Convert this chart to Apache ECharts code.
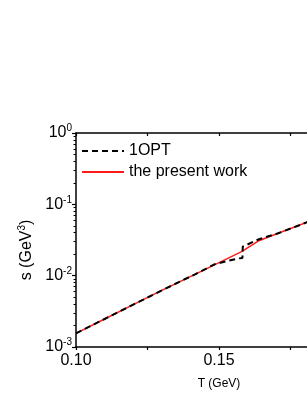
<!DOCTYPE html>
<html><head><meta charset="utf-8">
<script src="https://cdn.jsdelivr.net/npm/echarts@6/dist/echarts.min.js"></script>
<style>html,body{margin:0;padding:0;background:#fff}#c{width:307px;height:397px}</style>
</head><body><div id="c"></div>
<script>
const seriesNames = ['1OPT', 'the present work'];
// the present work
const tPresent = [0.100, 0.110, 0.120, 0.130, 0.1416, 0.1579, 0.1637, 0.1707, 0.1808, 0.190, 0.200];
const sPresent = [1.556e-3, 2.47e-3, 3.92e-3, 6.22e-3, 1.045e-2, 2.17e-2, 3.06e-2, 3.93e-2, 5.61e-2, 7.4e-2, 0.1];
// 1OPT
const tOPT = [0.100, 0.110, 0.120, 0.130, 0.1416, 0.1486, 0.1566, 0.1582, 0.1583, 0.1637, 0.1707, 0.1808, 0.190, 0.200];
const sOPT = [1.556e-3, 2.47e-3, 3.92e-3, 6.22e-3, 1.045e-2, 1.455e-2, 1.74e-2, 1.77e-2, 2.55e-2, 3.21e-2, 3.93e-2, 5.61e-2, 7.4e-2, 0.1];
const yMinorTicks = [];
[0.001, 0.01, 0.1].forEach(d => { for (let k = 2; k <= 9; k++) yMinorTicks.push(+(d * k).toPrecision(3)); });

const font = 'Liberation Sans, Arial, sans-serif';
const chart = echarts.init(document.getElementById('c'), null, {renderer: 'canvas'});
const axisLine = {show: true, lineStyle: {color: '#000', width: 1.5}};
chart.setOption({
  animation: false,
  backgroundColor: '#fff',
  grid: {left: 76, top: 133, width: 286, height: 214, containLabel: false, outerBoundsMode: 'none'},
  legend: {
    data: seriesNames, orient: 'vertical', left: 81, top: 143, padding: 0,
    itemWidth: 42, itemHeight: 14, itemGap: 5,
    itemStyle: {opacity: 0},
    textStyle: {fontFamily: font, fontSize: 16, color: '#000'}
  },
  xAxis: [{
    type: 'value', min: 0.1, max: 0.2, interval: 0.05, position: 'bottom',
    name: 'T (GeV)', nameLocation: 'middle', nameGap: 31,
    nameTextStyle: {fontFamily: font, fontSize: 12, color: '#000'},
    axisLine: axisLine, splitLine: {show: false},
    axisTick: {show: true, inside: false, length: 3, lineStyle: {color: '#000', width: 1.2}},
    minorTick: {show: true, splitNumber: 2, length: 3, lineStyle: {color: '#000', width: 1.2}},
    axisLabel: {fontFamily: font, fontSize: 16, color: '#000', margin: 6, formatter: v => v.toFixed(2)}
  }, {
    type: 'value', min: 0.1, max: 0.2, interval: 0.05, position: 'top',
    axisLine: axisLine, splitLine: {show: false}, axisLabel: {show: false},
    axisTick: {show: true, inside: true, length: 3, lineStyle: {color: '#000', width: 1.2}},
    minorTick: {show: true, splitNumber: 2, length: 3, lineStyle: {color: '#000', width: 1.2}}
  }],
  yAxis: [{
    type: 'log', logBase: 10, min: 0.001, max: 1, position: 'left',
    name: '{n|s (GeV}{s|3}{n|)}', nameLocation: 'middle', nameGap: 37,
    nameTextStyle: {fontFamily: font, color: '#000', padding: [0, 20, 0, 0],
      rich: {n: {fontFamily: font, fontSize: 16, color: '#000'}, s: {fontFamily: font, fontSize: 10, color: '#000', padding: [0, 0, 8, 0]}}},
    axisLine: axisLine, splitLine: {show: false},
    axisTick: {show: true, inside: false, length: 4, lineStyle: {color: '#000', width: 1.2}},
    axisLabel: {margin: 4, formatter: v => '{b|10}{s|' + Math.round(Math.log10(v)) + '}',
      rich: {b: {fontFamily: font, fontSize: 16, color: '#000'}, s: {fontFamily: font, fontSize: 10, color: '#000', padding: [0, 0, 9, 0]}}}
  }, {
    type: 'log', logBase: 10, min: 0.001, max: 1, position: 'left',
    axisLine: {show: false}, splitLine: {show: false}, axisLabel: {show: false},
    axisTick: {show: true, inside: false, length: 2.5, customValues: yMinorTicks, lineStyle: {color: '#000', width: 1}}
  }],
  series: [{
    name: seriesNames[1], type: 'line', showSymbol: false, symbol: 'none', z: 2,
    lineStyle: {color: '#ff1a1a', width: 1.5, type: 'solid'}, itemStyle: {color: '#ff1a1a'},
    data: tPresent.map((t, i) => [t, sPresent[i]])
  }, {
    name: seriesNames[0], type: 'line', showSymbol: false, symbol: 'none', z: 3,
    lineStyle: {color: '#000', width: 2, type: [6, 4]}, itemStyle: {color: '#000'},
    data: tOPT.map((t, i) => [t, sOPT[i]])
  }]
});
</script></body></html>
